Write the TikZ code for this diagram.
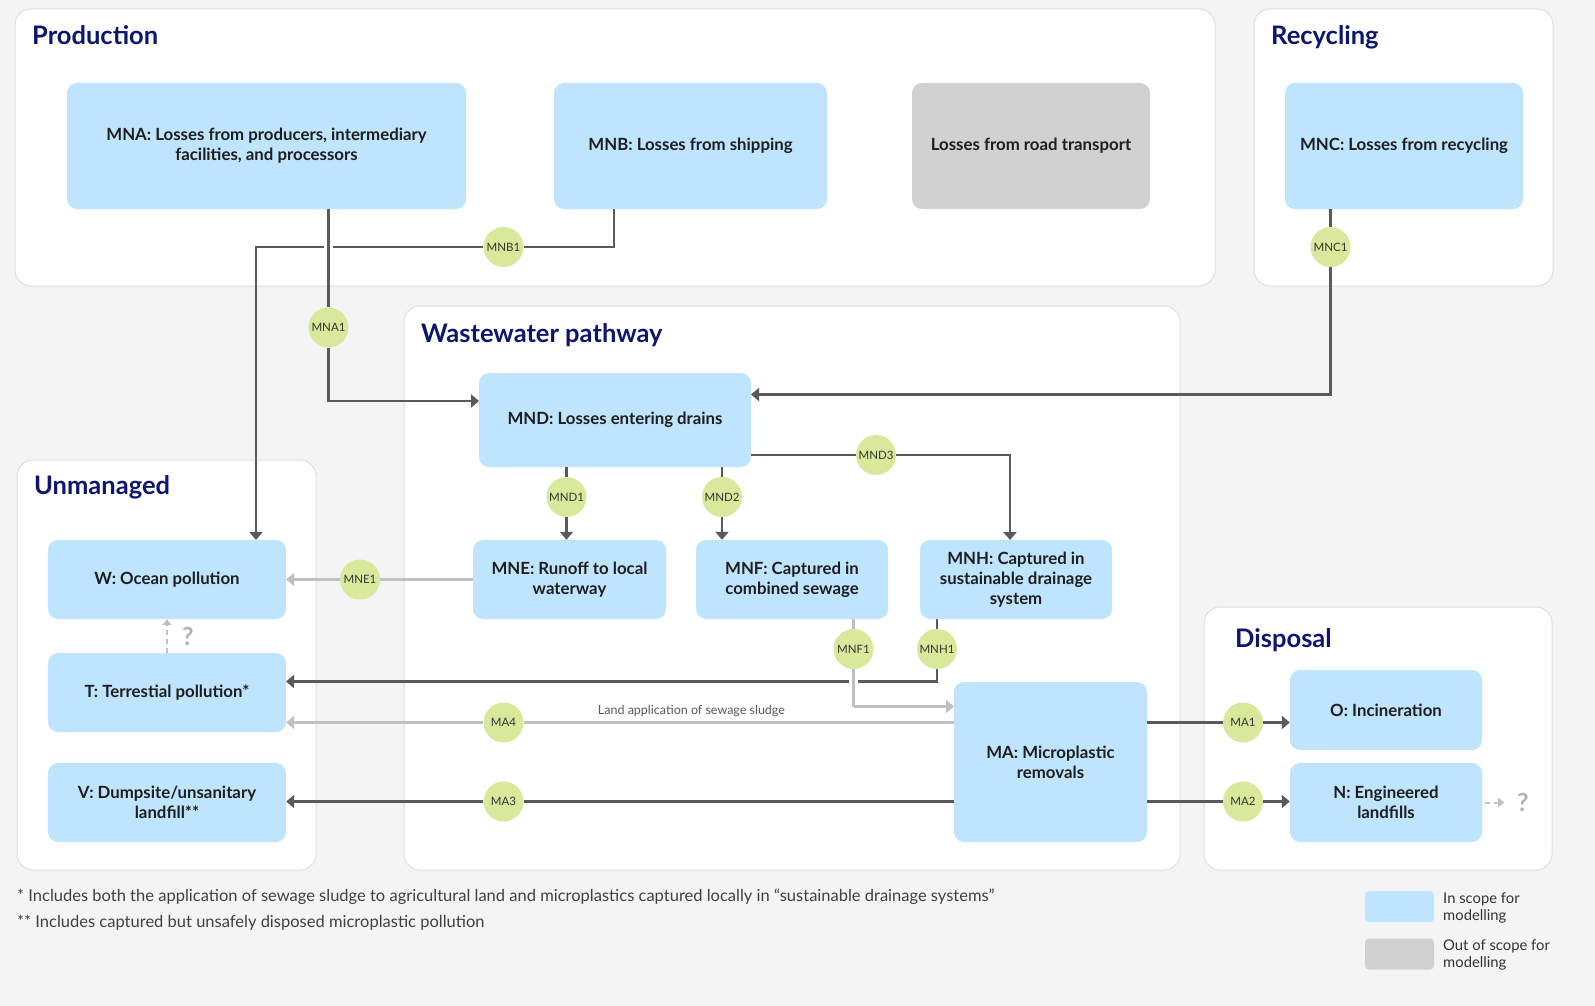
\documentclass[tikz,border=0pt]{standalone}
\usepackage{fontspec}
\setmainfont{Lato}
\usepackage{xcolor}
\usepackage{tikz}
\usetikzlibrary{arrows.meta, calc}
\definecolor{bgcol}{RGB}{244,244,244}
\definecolor{panelline}{RGB}{222,222,222}
\definecolor{inscope}{RGB}{190,229,253}
\definecolor{outscope}{RGB}{209,209,209}
\definecolor{ptgreen}{RGB}{216,233,156}
\definecolor{titlecol}{RGB}{12,22,112}
\definecolor{darkflow}{RGB}{90,90,90}
\definecolor{lightflow}{RGB}{192,192,192}
\definecolor{txtcol}{RGB}{30,30,30}
\tikzset{
  panel/.style={fill=white, draw=panelline, line width=1pt, rounded corners=16pt},
  paneltitle/.style={anchor=base west, inner sep=0pt, text=titlecol,
                     font=\bfseries\fontsize{25.5}{28}\selectfont},
  box/.style={fill=inscope, rounded corners=10pt, align=center, inner sep=0pt,
              text=txtcol, font=\bfseries\fontsize{16.8}{20}\selectfont},
  flowpt/.style={circle, fill=ptgreen, minimum size=40pt, inner sep=0pt,
                 text=txtcol!90, font=\fontsize{11.5}{12}\selectfont},
  darkline/.style={draw=darkflow, line width=2.3pt},
  greyline/.style={draw=lightflow, line width=2.3pt},
  unk/.style={draw=lightflow, line width=2pt, dash pattern=on 5pt off 4pt},
  arr/.style={-{Triangle[length=8pt,width=13pt]}},
  smallarr/.style={-{Triangle[length=6pt,width=9pt]}},
  jump/.style={preaction={draw=white, line width=9pt}},
  qmark/.style={inner sep=0pt, text=black!30, font=\bfseries\fontsize{25}{25}\selectfont},
  note/.style={anchor=west, inner sep=0pt, text=black!75, font=\fontsize{16.5}{18}\selectfont},
  legtext/.style={anchor=west, inner sep=0pt, align=left, text=black!80,
                  font=\fontsize{14.8}{17}\selectfont},
}

\begin{document}
\begin{tikzpicture}[x=1pt, y=-1pt]
% Canvas
\fill[bgcol] (0,0) rectangle (1595,1006);
\useasboundingbox (0,0) rectangle (1595,1006);
% Panels with titles
\foreach \nm/\xa/\ya/\xb/\yb/\tx/\ty/\ttl in {
  prod/15/9/1215/286/32/44.5/Production,
  recy/1254/9/1553/286/1271/44.5/Recycling,
  wast/404/306/1180/870/421/342/{Wastewater pathway},
  unma/17/460/316/870/34/494/Unmanaged,
  disp/1204/607/1552/870/1235/647/Disposal} {
  \draw[panel] (\xa,\ya) rectangle (\xb,\yb);
  \node[paneltitle] (\nm) at (\tx,\ty) {\ttl};
}
% Production and recycling
\node[box, minimum width=399pt, minimum height=126pt] (mna) at (266.5,146)
  {MNA: Losses from producers, intermediary\\facilities, and processors};
\node[box, minimum width=273pt, minimum height=126pt] (mnb) at (690.5,146)
  {MNB: Losses from shipping};
\node[box, fill=outscope, minimum width=238pt, minimum height=126pt] (road) at (1031,146)
  {Losses from road transport};
\node[box, minimum width=238pt, minimum height=126pt] (mnc) at (1404,146)
  {MNC: Losses from recycling};
% Wastewater pathway
\node[box, minimum width=272pt, minimum height=94pt] (mnd) at (615,420)
  {MND: Losses entering drains};
\node[box, minimum width=193pt, minimum height=79pt] (mne) at (569.5,579.5)
  {MNE: Runoff to local\\waterway};
\node[box, minimum width=192pt, minimum height=79pt] (mnf) at (792,579.5)
  {MNF: Captured in\\combined sewage};
\node[box, minimum width=192pt, minimum height=79pt] (mnh) at (1016,579.5)
  {MNH: Captured in\\sustainable drainage\\system};
\node[box, minimum width=193pt, minimum height=160pt] (ma) at (1050.5,762)
  {MA: Microplastic\\removals};
% Unmanaged
\node[box, minimum width=238pt, minimum height=79pt] (w) at (167,579.5)
  {W: Ocean pollution};
\node[box, minimum width=238pt, minimum height=79pt] (t) at (167,692.5)
  {T: Terrestial pollution*};
\node[box, minimum width=238pt, minimum height=79pt] (v) at (167,802.5)
  {V: Dumpsite/unsanitary\\landfill**};
% Disposal
\node[box, minimum width=192pt, minimum height=80pt] (o) at (1386,710)
  {O: Incineration};
\node[box, minimum width=192pt, minimum height=79pt] (n) at (1386,802.5)
  {N: Engineered\\landfills};
% Flow points
\foreach \nm/\x/\y/\lbl in {
  mnb1/503.5/247/MNB1, mna1/328.5/327.5/MNA1, mnc1/1330.5/247/MNC1,
  mnd1/566.5/497/MND1, mnd2/722/497/MND2, mnd3/876/455/MND3,
  mne1/360/579.5/MNE1, mnf1/853.5/649/MNF1, mnh1/937/649/MNH1,
  ma4/503.5/722.5/MA4, ma3/503.5/801.5/MA3, ma1/1243/722.5/MA1, ma2/1243/801.5/MA2} {
  \node[flowpt] (\nm) at (\x,\y) {\lbl};
}
% Attachment points
\coordinate (mnbout) at (614,209);
\coordinate (win) at (256,540);
\coordinate (mnacross) at (328.5,262);
\coordinate (mndinl) at (479,401);
\coordinate (mndinr) at (751,394.5);
\coordinate (mnhin) at (1010,540);
\coordinate (tin) at (286,681.5);
\coordinate (mafeed) at (954,706.5);
% Flows
\draw[darkline, arr] (mnbout) |- (mnb1) -| (win);
\draw[darkline, jump] (mna1 |- mna.south) -- (mnacross);
\draw[darkline, arr] (mnacross) -- (mna1) |- (mndinl);
\draw[darkline, arr] (mnc1 |- mnc.south) -- (mnc1) |- (mndinr);
\draw[darkline, arr] (mnd.east |- mnd3) -- (mnd3) -| (mnhin);
\draw[darkline, arr] (mnd1 |- mnd.south) -- (mnd1) -- (mnd1 |- mne.north);
\draw[darkline, arr] (mnd2 |- mnd.south) -- (mnd2) -- (mnd2 |- mnf.north);
\draw[greyline, arr] (mne.west) -- (mne1) -- (w.east);
\draw[darkline, arr] (mnh1 |- mnh.south) -- (mnh1) |- (tin);
\draw[greyline] (mnf1 |- mnf.south) -- (mnf1);
\draw[greyline, jump] (mnf1) -- (mnf1 |- mafeed);
\draw[greyline, arr] (mnf1 |- mafeed) -- (mafeed);
\draw[greyline, arr] (ma.west |- ma4)
  -- node[pos=0.61, above=5pt, inner sep=0pt, text=black!65,
          font=\fontsize{12.5}{13}\selectfont] (sludge) {Land application of sewage sludge}
  (ma4) -- (t.east |- ma4);
\draw[darkline, arr] (ma.west |- ma3) -- (ma3) -- (v.east |- ma3);
\draw[darkline, arr] (ma.east |- ma1) -- (ma1) -- (o.west |- ma1);
\draw[darkline, arr] (ma.east |- ma2) -- (ma2) -- (n.west |- ma2);
% Unknown flows
\draw[unk, smallarr] (t.north) -- (w.south) node[qmark, midway, right=14pt] (q1) {?};
\draw[unk, smallarr] ([xshift=3pt]n.east) -- ([xshift=22pt]n.east) node[qmark, right=12pt] (q2) {?};
% Footnotes
\node[note] (fn1) at (17,897) {* Includes both the application of sewage sludge to agricultural land and microplastics captured locally in “sustainable drainage systems”};
\node[note] (fn2) at (17,922.5) {** Includes captured but unsafely disposed microplastic pollution};
% Legend
\node[fill=inscope, rounded corners=4pt, minimum width=69pt, minimum height=31pt] (legin) at (1399.5,906.5) {};
\node[legtext] (legintxt) at (1443,907.5) {In scope for\\modelling};
\node[fill=outscope, rounded corners=4pt, minimum width=69pt, minimum height=31pt] (legout) at (1399.5,954) {};
\node[legtext] (legouttxt) at (1443,955) {Out of scope for\\modelling};
\end{tikzpicture}
\end{document}
